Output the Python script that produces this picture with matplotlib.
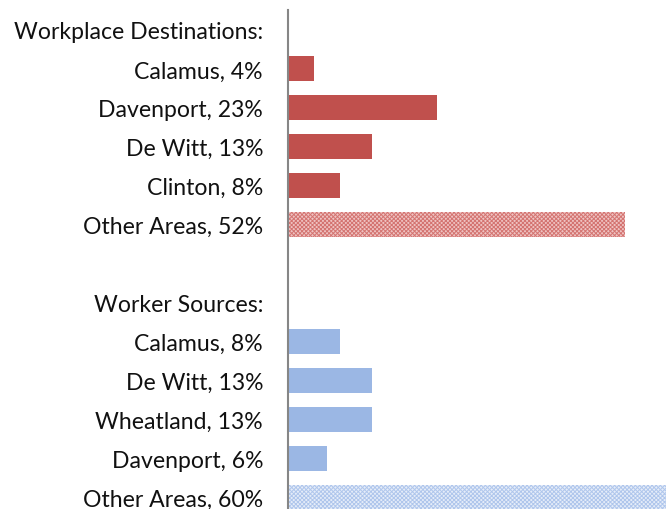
import matplotlib.pyplot as plt

plt.rcParams['font.family'] = ['Lato', 'DejaVu Sans']
plt.rcParams['hatch.linewidth'] = 0.7

# rows from top to bottom; None marks header / spacer rows with no bar
labels = ['Workplace Destinations:', 'Calamus, 4%', 'Davenport, 23%', 'De Witt, 13%',
          'Clinton, 8%', 'Other Areas, 52%', '',
          'Worker Sources:', 'Calamus, 8%', 'De Witt, 13%', 'Wheatland, 13%',
          'Davenport, 6%', 'Other Areas, 60%']
values = [None, 4, 23, 13, 8, 52, None,
          None, 8, 13, 13, 6, 60]
group = [None, 'dest', 'dest', 'dest', 'dest', 'dest_other', None,
         None, 'src', 'src', 'src', 'src', 'src_other']

red = '#C0504D'
blue = '#9BB7E4'
styles = {
    'dest': dict(color=red),
    'dest_other': dict(facecolor='#EFC4C3', edgecolor='#D47471', hatch='xxxxxxxx', linewidth=0),
    'src': dict(color=blue),
    'src_other': dict(facecolor='#E6EDF9', edgecolor='#AFC6EC', hatch='xxxxxxxx', linewidth=0),
}

fig = plt.figure(figsize=(6.66, 5.10), dpi=100)
ax = fig.add_axes([288 / 666, -7.5 / 510, 1 - 288 / 666, 506 / 510])

for i, (v, g) in enumerate(zip(values, group)):
    if v is None:
        continue
    ax.barh(i, v, height=0.64, **styles[g])

ax.set_yticks(range(len(labels)))
ax.set_yticklabels(labels, fontsize=16.6, color='#111111')
ax.tick_params(axis='y', length=0, pad=18)
ax.set_ylim(12.5, -0.5)
ax.set_xlim(0, 58.4)
ax.set_xticks([])

for side in ['top', 'right', 'bottom']:
    ax.spines[side].set_visible(False)
ax.spines['left'].set_color('#868686')
ax.spines['left'].set_linewidth(1.5)

fig.savefig('out.png', dpi=100)
